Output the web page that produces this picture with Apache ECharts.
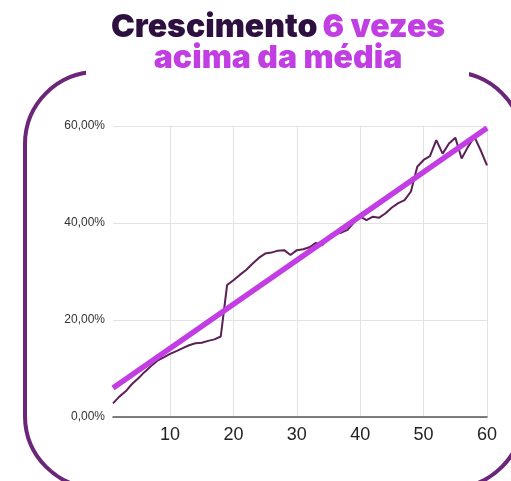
<!DOCTYPE html>
<html>
<head>
<meta charset="utf-8">
<script src="https://cdn.jsdelivr.net/npm/echarts@6/dist/echarts.min.js"></script>
<style>
  html, body { margin: 0; padding: 0; background: #fff; }
  #chart { width: 511px; height: 481px; }
</style>
</head>
<body>
<div id="chart"></div>
<script>
// eixo x: 1..60
var categorias = [];
for (var i = 1; i <= 60; i++) categorias.push(String(i));

var crescimento = [
  2.8, 4.2, 5.3, 6.8, 8.0, 9.3, 10.5, 11.6, 12.3, 13.0,
  13.6, 14.2, 14.8, 15.2, 15.3, 15.7, 16.0, 16.6, 27.2, 28.2,
  29.3, 30.3, 31.6, 32.8, 33.7, 33.9, 34.3, 34.4, 33.4, 34.4,
  34.6, 35.0, 35.9, 35.4, 37.0, 37.8, 38.0, 38.6, 40.1, 41.3,
  40.6, 41.3, 41.1, 42.0, 43.2, 44.1, 44.7, 46.5, 51.6, 53.0,
  53.8, 57.1, 54.3, 56.4, 57.6, 53.3, 55.7, 57.8, 55.0, 51.9
];

// linha de tendencia: so as pontas
var tendencia = [['1', 6.0], ['60', 59.6]];

var chart = echarts.init(document.getElementById('chart'));

var option = {
  animation: false,
  title: {
    text: '{a|Crescimento} {b|6 vezes}\n{b|acima da média}',
    left: 273,
    textAlign: 'center',
    top: 7,
    z: 10,
    textStyle: {
      rich: {
        a: { fontFamily: 'Inter', fontWeight: 900, fontSize: 32, lineHeight: 31, color: '#2e1040' },
        b: { fontFamily: 'Inter', fontWeight: 900, fontSize: 32, lineHeight: 31, color: '#c03ee2' }
      }
    }
  },
  graphic: [
    {
      // moldura arredondada
      type: 'rect',
      z: 1,
      shape: { x: 25, y: 72, width: 498, height: 416, r: 72 },
      style: { fill: 'none', stroke: '#6b2679', lineWidth: 4 },
      silent: true
    },
    {
      // abertura no topo, atras do titulo
      type: 'rect',
      z: 2,
      shape: { x: 86, y: 62, width: 383, height: 20 },
      style: { fill: '#fff' },
      silent: true
    }
  ],
  grid: { left: 113, right: 24, top: 126, bottom: 64 },
  xAxis: {
    type: 'category',
    data: categorias,
    boundaryGap: false,
    axisLine: { lineStyle: { color: '#555', width: 1.5 } },
    axisTick: { show: false },
    axisLabel: {
      interval: function (idx, v) { return Number(v) % 10 === 0; },
      fontFamily: 'Liberation Sans',
      fontSize: 18,
      color: '#222',
      margin: 9
    },
    splitLine: {
      show: true,
      interval: function (idx, v) { return Number(v) % 10 === 0; },
      lineStyle: { color: '#e3e3e3' }
    }
  },
  yAxis: {
    type: 'value',
    min: 0,
    max: 60,
    interval: 20,
    axisLine: { show: false },
    axisTick: { show: false },
    axisLabel: {
      fontFamily: 'Liberation Sans',
      fontSize: 12,
      color: '#333',
      margin: 8,
      formatter: function (v) { return v.toFixed(2).replace('.', ',') + '%'; }
    },
    splitLine: { lineStyle: { color: '#e3e3e3' } }
  },
  series: [
    {
      type: 'line',
      data: crescimento,
      symbol: 'none',
      lineStyle: { color: '#5b2156', width: 2 },
      z: 3
    },
    {
      type: 'line',
      data: tendencia,
      symbol: 'none',
      lineStyle: { color: '#c23ee4', width: 5.5 },
      z: 4
    }
  ]
};

chart.setOption(option);
</script>
</body>
</html>
